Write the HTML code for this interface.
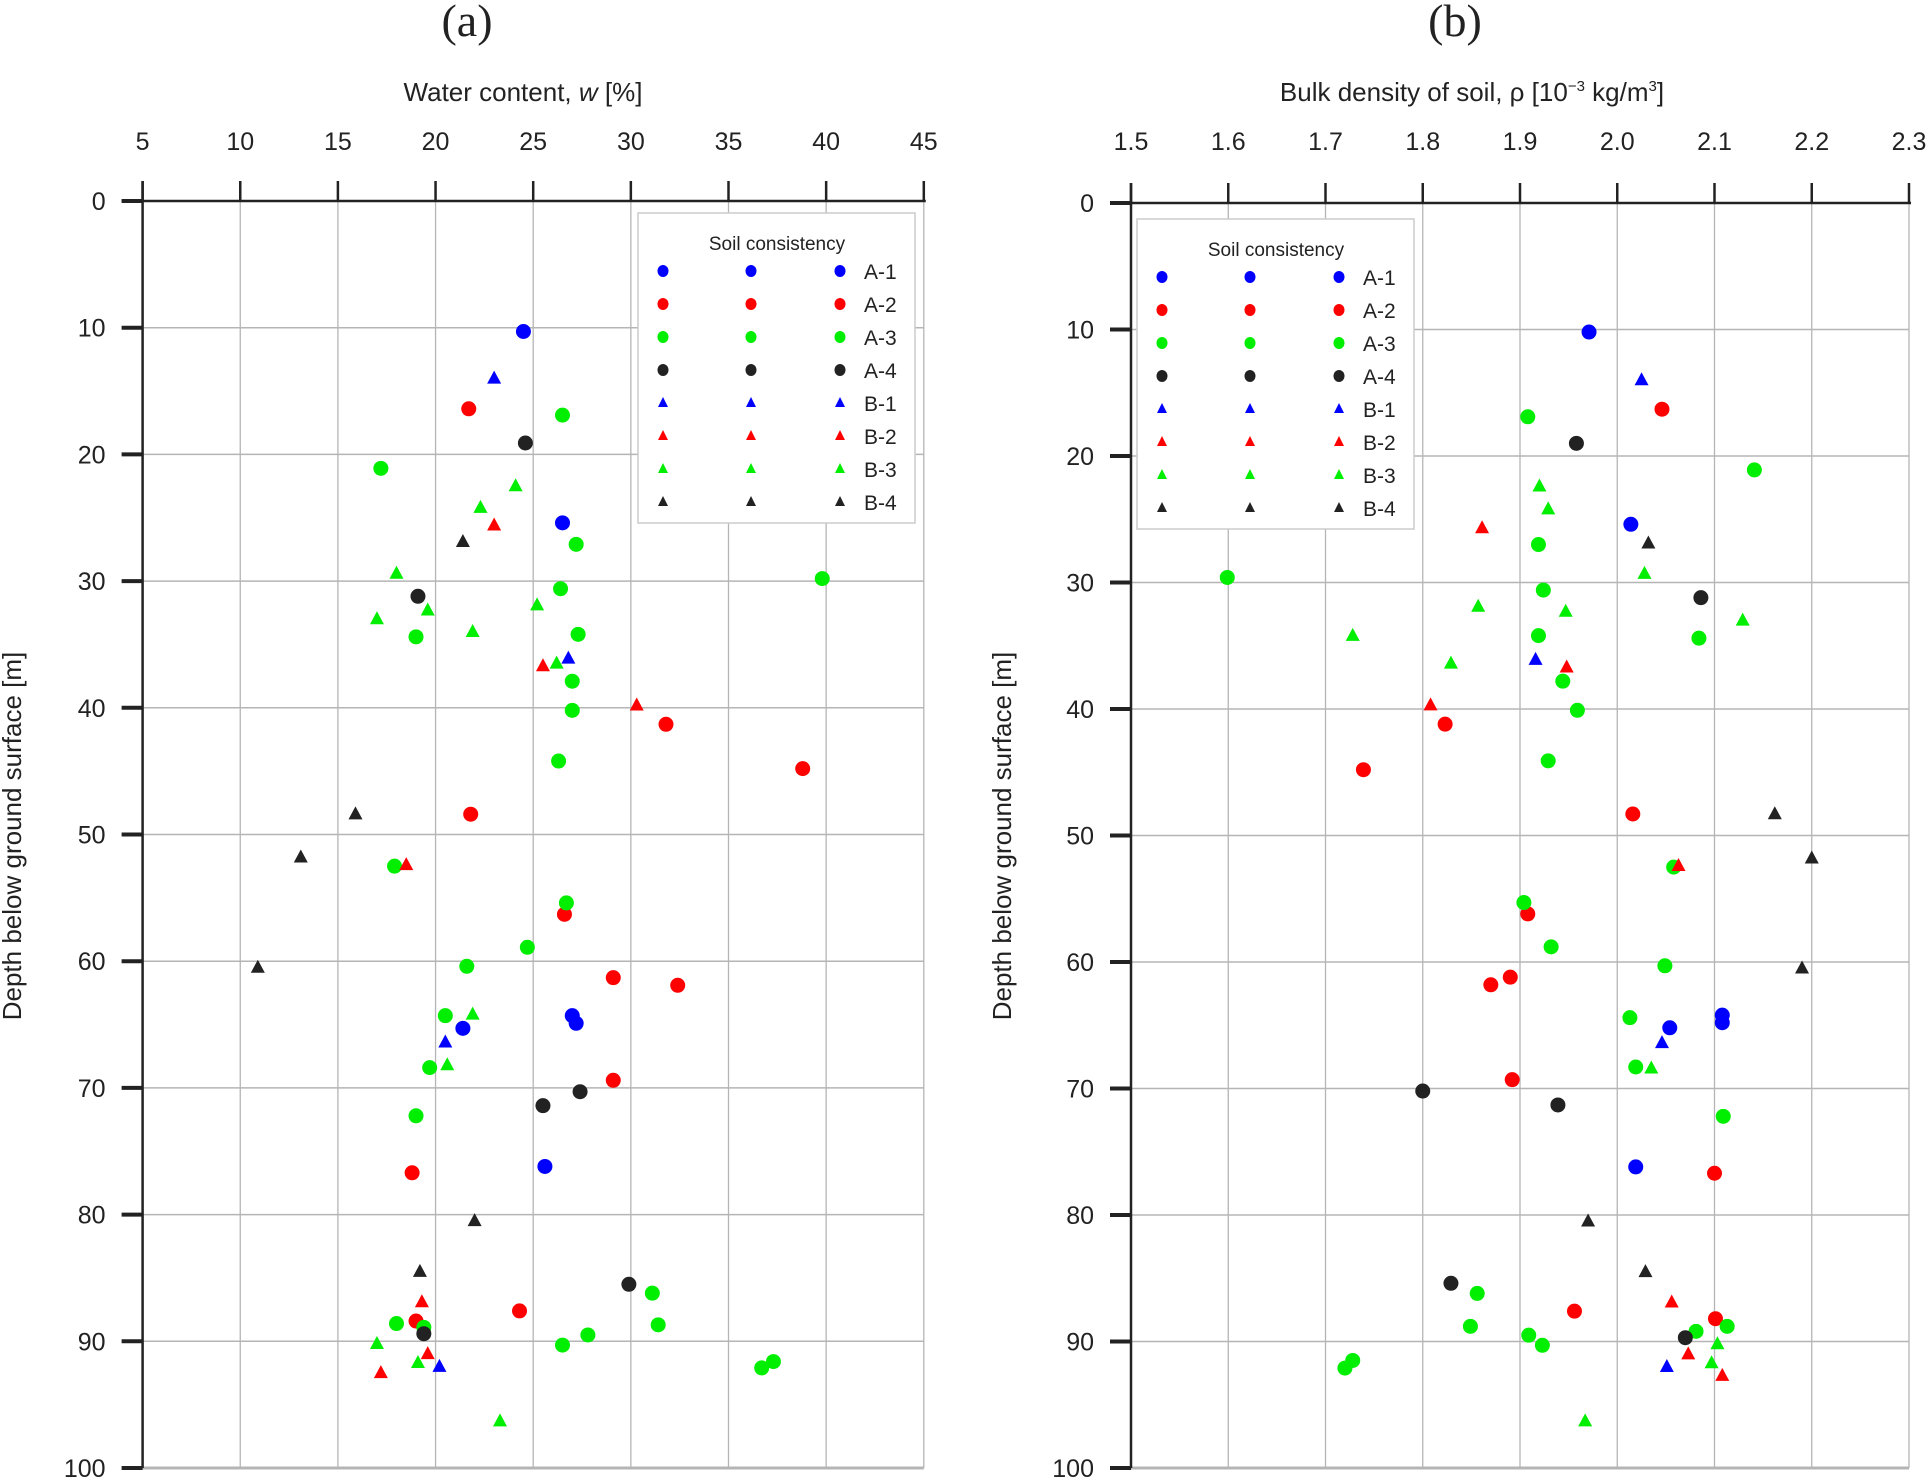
<!DOCTYPE html>
<html><head><meta charset="utf-8"><style>
html,body{margin:0;padding:0;background:#fff;}
svg{display:block;font-family:"Liberation Sans",sans-serif;}
</style></head><body>
<svg id="chart" width="1928" height="1481" viewBox="0 0 1928 1481" xmlns="http://www.w3.org/2000/svg"></svg>
<script>
// ---- Panel (a) data: water content [%], depth [m]
const aA1w=[24.5,26.5,27.0,27.2,21.4,25.6];
const aA1d=[10.3,25.4,64.3,64.9,65.3,76.2];
const aA2w=[21.7,31.8,38.8,21.8,26.6,29.1,32.4,29.1,18.8,24.3,19.0];
const aA2d=[16.4,41.3,44.8,48.4,56.3,61.3,61.9,69.4,76.7,87.6,88.4];
const aA3w=[26.5,17.2,27.2,39.8,26.4,27.3,19.0,27.0,27.0,26.3,17.9,26.7,24.7,21.6,20.5,19.7,19.0,31.1,18.0,31.4,19.4,27.8,26.5,37.3,36.7];
const aA3d=[16.9,21.1,27.1,29.8,30.6,34.2,34.4,37.9,40.2,44.2,52.5,55.4,58.9,60.4,64.3,68.4,72.2,86.2,88.6,88.7,88.9,89.5,90.3,91.6,92.1];
const aA4w=[24.6,19.1,27.4,25.5,29.9,19.4];
const aA4d=[19.1,31.2,70.3,71.4,85.5,89.4];
const aB1w=[23.0,26.8,20.5,20.2];
const aB1d=[14.0,36.1,66.4,92.0];
const aB2w=[23.0,25.5,30.3,18.5,19.3,19.6,17.2];
const aB2d=[25.6,36.7,39.8,52.4,86.9,91.0,92.5];
const aB3w=[24.1,22.3,18.0,19.6,25.2,17.0,21.9,26.2,21.9,20.6,17.0,19.1,23.3];
const aB3d=[22.5,24.2,29.4,32.3,31.9,33.0,34.0,36.5,64.2,68.2,90.2,91.7,96.3];
const aB4w=[21.4,15.9,13.1,10.9,22.0,19.2];
const aB4d=[26.9,48.4,51.8,60.5,80.5,84.5];
// ---- Panel (b) data: bulk density, depth [m]
const bA1r=[1.971,2.014,2.108,2.108,2.054,2.019];
const bA1d=[10.2,25.4,64.2,64.8,65.2,76.2];
const bA2r=[2.046,1.823,1.739,2.016,1.908,1.890,1.870,1.892,2.100,1.956,2.101];
const bA2d=[16.3,41.2,44.8,48.3,56.2,61.2,61.8,69.3,76.7,87.6,88.2];
const bA3r=[1.908,2.141,1.919,1.599,1.924,2.084,1.919,1.944,1.959,1.929,2.058,1.904,1.932,2.049,2.013,2.019,2.109,1.856,1.849,2.113,2.081,1.909,1.923,1.728,1.720];
const bA3d=[16.9,21.1,27.0,29.6,30.6,34.4,34.2,37.8,40.1,44.1,52.5,55.3,58.8,60.3,64.4,68.3,72.2,86.2,88.8,88.8,89.2,89.5,90.3,91.5,92.1];
const bA4r=[1.958,2.086,1.800,1.939,1.829,2.070];
const bA4d=[19.0,31.2,70.2,71.3,85.4,89.7];
const bB1r=[2.025,1.916,2.046,2.051];
const bB1d=[14.0,36.1,66.4,92.0];
const bB2r=[1.861,1.948,1.808,2.063,2.056,2.073,2.108];
const bB2d=[25.7,36.7,39.7,52.4,86.9,91.0,92.7];
const bB3r=[1.920,1.929,2.028,1.947,1.857,2.129,1.728,1.829,2.035,2.103,2.097,1.967];
const bB3d=[22.4,24.2,29.3,32.3,31.9,33.0,34.2,36.4,68.4,90.2,91.7,96.3];
const bB4r=[2.032,2.162,2.200,2.190,1.970,2.029];
const bB4d=[26.9,48.3,51.8,60.5,80.5,84.5];
const aTicks=[5,10,15,20,25,30,35,40,45];
const bTicks=[1.5,1.6,1.7,1.8,1.9,2.0,2.1,2.2,2.3];
const depthTicks=[0,10,20,30,40,50,60,70,80,90,100];
const seriesNames=["A-1","A-2","A-3","A-4","B-1","B-2","B-3","B-4"];

const NS="http://www.w3.org/2000/svg";
const svg=document.getElementById('chart');
const COLORS={"A-1":"#0000ff","A-2":"#ff0000","A-3":"#00ee00","A-4":"#222222","B-1":"#0000ff","B-2":"#ff0000","B-3":"#00ee00","B-4":"#222222"};
function mk(tag,attrs,parent){const e=document.createElementNS(NS,tag);for(const k in attrs)e.setAttribute(k,attrs[k]);(parent||svg).appendChild(e);return e;}

function marker(g,name,cx,cy,big){
  const c=COLORS[name];
  let e;
  if(name[0]==="A"){
    e=mk('ellipse',{cx:cx,cy:cy,rx:big?7.5:5.5,ry:big?7.5:6,fill:c},g);
  } else {
    const h=big?13:10,w=big?14:10;
    e=mk('polygon',{points:`${cx},${cy-h*0.6} ${cx-w/2},${cy+h*0.4} ${cx+w/2},${cy+h*0.4}`,fill:c},g);
  }
  return e;
}

function panel(cfg){
  const g=mk('g',{});
  
  
  const X=cfg.X,Y=cfg.Y;
  const x0=X(cfg.ticks[0]),x1=X(cfg.ticks[cfg.ticks.length-1]);
  // gridlines
  cfg.ticks.forEach((t,i)=>{ if(i>0){const l=mk('line',{x1:X(t),x2:X(t),y1:Y(0),y2:Y(100),stroke:'#b5b5b5','stroke-width':1.3},g);
    }});
  depthTicks.forEach(t=>{ if(t>0){const l=mk('line',{x1:x0,x2:x1,y1:Y(t),y2:Y(t),stroke:'#b5b5b5','stroke-width':t===100?3:1.5},g);
    }});
  // axes
  const ax=mk('line',{x1:x0-21,x2:x1+2,y1:Y(0),y2:Y(0),stroke:'#222','stroke-width':2.5},g);
  
  const ay=mk('line',{x1:x0,x2:x0,y1:Y(0)-20,y2:Y(100),stroke:'#222','stroke-width':2.5},g);
  
  cfg.ticks.forEach(t=>{
    mk('line',{x1:X(t),x2:X(t),y1:Y(0)-20,y2:Y(0),stroke:'#222','stroke-width':2.5},g);
    const tx=mk('text',{x:X(t),y:150,'text-anchor':'middle','font-size':25,fill:'#222'},g);
    tx.textContent=cfg.fmt(t);
    
  });
  depthTicks.forEach(t=>{
    mk('line',{x1:x0-21,x2:x0,y1:Y(t),y2:Y(t),stroke:'#222','stroke-width':4},g);
    const ty=mk('text',{x:x0-37,y:Y(t)+9,'text-anchor':'end','font-size':25,fill:'#222'},g);
    ty.textContent=t;
    
  });
  // titles
  const pt=mk('text',{x:cfg.titleX,y:36,'text-anchor':'middle','font-size':46,'font-family':'"Liberation Serif",serif',fill:'#222'},g);
  pt.textContent=cfg.label;
  const xt=mk('text',{x:cfg.xTitleX,y:101,'text-anchor':'middle','font-size':26,fill:'#222'},g);
  xt.innerHTML=cfg.xTitle;
  const yt=mk('text',{x:0,y:0,'text-anchor':'middle','font-size':26,fill:'#222',transform:`translate(${cfg.yTitleX},836) rotate(-90)`},g);
  yt.textContent='Depth below ground surface [m]';
  // legend
  const L=cfg.legend;
  const lg=mk('g',{},g);
  
  mk('rect',{x:L.x,y:L.y,width:277,height:310,fill:'#fff',stroke:'#ccc','stroke-width':1.5},lg);
  const lt=mk('text',{x:L.x+139,y:L.y+37,'text-anchor':'middle','font-size':19,fill:'#222'},lg);
  lt.textContent='Soil consistency';
  seriesNames.forEach((n,i)=>{
    const ry=L.y+58+i*33;
    const eg=mk('g',{},lg);
    
    [25,113,202].forEach(dx=>marker(eg,n,L.x+dx,ry,false));
    const tx=mk('text',{x:L.x+226,y:ry+8,'font-size':21,fill:'#222'},eg);tx.textContent=n;
  });
  // data
  cfg.series.forEach(s=>{
    const sg=mk('g',{},g);
    
    
    s.xs.forEach((v,i)=>{
      const m=marker(sg,s.name,X(v),Y(s.ds[i]),true);
      
      
    });
  });
}

panel({id:'water-content',label:'(a)',titleX:467,xTitleX:523,yTitleX:21,
  xTitle:'Water content, <tspan font-style="italic">w</tspan> [%]',
  X:w=>142.6+(w-5)*19.53, Y:d=>201+d*12.67, ticks:aTicks, fmt:t=>String(t),
  legend:{x:638,y:213},
  series:[{name:'A-1',xs:aA1w,ds:aA1d},{name:'A-2',xs:aA2w,ds:aA2d},{name:'A-3',xs:aA3w,ds:aA3d},{name:'A-4',xs:aA4w,ds:aA4d},
          {name:'B-1',xs:aB1w,ds:aB1d},{name:'B-2',xs:aB2w,ds:aB2d},{name:'B-3',xs:aB3w,ds:aB3d},{name:'B-4',xs:aB4w,ds:aB4d}]});
panel({id:'bulk-density',label:'(b)',titleX:1455,xTitleX:1472,yTitleX:1011,
  xTitle:'Bulk density of soil, ρ [10<tspan font-size="15" dy="-10">−3</tspan><tspan dy="10"> kg/m</tspan><tspan font-size="15" dy="-10">3</tspan><tspan dy="10">]</tspan>',
  X:r=>1131+(r-1.5)*972.5, Y:d=>203+d*12.65, ticks:bTicks, fmt:t=>t.toFixed(1),
  legend:{x:1137,y:219},
  series:[{name:'A-1',xs:bA1r,ds:bA1d},{name:'A-2',xs:bA2r,ds:bA2d},{name:'A-3',xs:bA3r,ds:bA3d},{name:'A-4',xs:bA4r,ds:bA4d},
          {name:'B-1',xs:bB1r,ds:bB1d},{name:'B-2',xs:bB2r,ds:bB2d},{name:'B-3',xs:bB3r,ds:bB3d},{name:'B-4',xs:bB4r,ds:bB4d}]});
</script>
</body></html>
